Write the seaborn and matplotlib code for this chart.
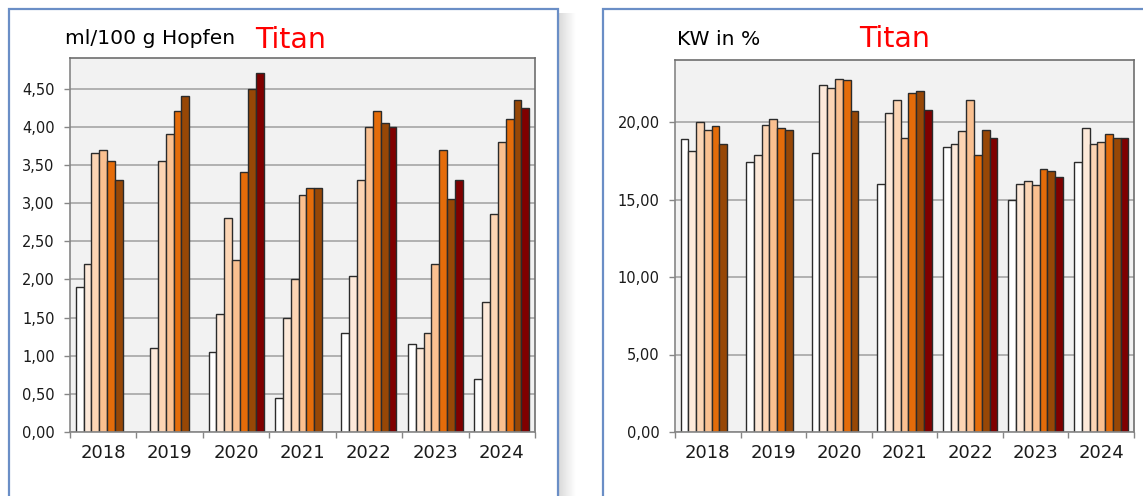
# %%
## LIBRARY
import numpy as np
import pandas as pd
import matplotlib
matplotlib.use("Agg")
import matplotlib.pyplot as plt
import seaborn as sns
from matplotlib.patches import Rectangle
from matplotlib.ticker import FuncFormatter

# %%
## DATA
years = ["2018", "2019", "2020", "2021", "2022", "2023", "2024"]
slots = ["1", "2", "3", "4", "5", "6", "7"]
bar_colors = ["#FFFFFF", "#FDE9D9", "#FCD5B4", "#FAC090", "#E46C0A", "#974706", "#7F0000"]

nan = np.nan
# ml/100 g Hopfen, one list per year (7 bars each)
oil_2018 = [1.90, 2.20, 3.65, 3.70, 3.55, 3.30, nan]
oil_2019 = [nan, 1.10, 3.55, 3.90, 4.20, 4.40, nan]
oil_2020 = [1.05, 1.55, 2.80, 2.25, 3.40, 4.50, 4.70]
oil_2021 = [0.45, 1.50, 2.00, 3.10, 3.20, 3.20, nan]
oil_2022 = [1.30, 2.05, 3.30, 4.00, 4.20, 4.05, 4.00]
oil_2023 = [1.15, 1.10, 1.30, 2.20, 3.70, 3.05, 3.30]
oil_2024 = [0.70, 1.70, 2.85, 3.80, 4.10, 4.35, 4.25]

# KW in %
kw_2018 = [18.9, 18.1, 20.0, 19.5, 19.75, 18.6, nan]
kw_2019 = [17.4, 17.9, 19.8, 20.2, 19.6, 19.5, nan]
kw_2020 = [18.0, 22.4, 22.2, 22.8, 22.7, 20.7, nan]
kw_2021 = [16.0, 20.6, 21.4, 19.0, 21.9, 22.0, 20.8]
kw_2022 = [18.4, 18.6, 19.4, 21.4, 17.9, 19.5, 19.0]
kw_2023 = [14.95, 16.0, 16.2, 15.95, 16.95, 16.85, 16.45]
kw_2024 = [17.4, 19.6, 18.6, 18.7, 19.2, 19.0, 19.0]

oil_ticks = [0, 0.5, 1.0, 1.5, 2.0, 2.5, 3.0, 3.5, 4.0, 4.5]
kw_ticks = [0, 5, 10, 15, 20]


def long_df(rows):
    recs = []
    for year, vals in zip(years, rows):
        for s, v in zip(slots, vals):
            if not np.isnan(v):
                recs.append({"year": year, "slot": s, "value": v})
    return pd.DataFrame(recs)


df_oil = long_df([oil_2018, oil_2019, oil_2020, oil_2021, oil_2022, oil_2023, oil_2024])
df_kw = long_df([kw_2018, kw_2019, kw_2020, kw_2021, kw_2022, kw_2023, kw_2024])

# %%
## FIGURE
W, H = 1143, 496
fig = plt.figure(figsize=(W / 100, H / 100), dpi=100)
fig.patch.set_facecolor("white")


def px_box(x0, y0, x1, y1):
    # pixel box (top-left origin) -> figure fraction rect
    return [x0 / W, (H - y1) / H, (x1 - x0) / W, (y1 - y0) / H]


# outer panel frames (+ soft shadow right of the left one)
shadow = fig.add_axes(px_box(559, 13, 576, H))
grad = np.linspace(0.80, 1.0, 40) ** 0.7
shadow.imshow(grad.reshape(1, -1), cmap="gray", vmin=0, vmax=1, aspect="auto")
shadow.axis("off")

fig.patches.append(Rectangle((9 / W, -0.1), (558 - 9) / W, (H - 9) / H + 0.1,
                             transform=fig.transFigure, fill=False,
                             edgecolor="#6A8EC6", linewidth=1.6, zorder=5))
fig.patches.append(Rectangle((603 / W, -0.1), 0.5, (H - 9) / H + 0.1,
                             transform=fig.transFigure, fill=False,
                             edgecolor="#6A8EC6", linewidth=1.6, zorder=5))


def draw_panel(ax, df, ymax, ticks):
    sns.barplot(data=df, x="year", y="value", hue="slot", order=years,
                hue_order=slots, palette=bar_colors, saturation=1,
                width=0.83, edgecolor="#2b2b2b", linewidth=1.0,
                errorbar=None, legend=False, ax=ax)
    ax.set_facecolor("#F2F2F2")
    ax.set_ylim(0, ymax)
    ax.set_xlim(-0.5, 6.5)
    ax.set_yticks(ticks)
    ax.yaxis.set_major_formatter(FuncFormatter(lambda v, p: f"{v:.2f}".replace(".", ",")))
    ax.grid(axis="y", color="#A6A6A6", linewidth=1.2)
    ax.grid(axis="x", visible=False)
    ax.set_axisbelow(True)
    ax.set_xticks(np.arange(-0.5, 7, 1))
    ax.set_xticklabels([])
    ax.set_xticks(range(7), minor=True)
    ax.set_xticklabels(years, minor=True)
    ax.tick_params(axis="x", which="major", length=4, color="#868686", width=1)
    ax.tick_params(axis="x", which="minor", length=0, pad=9, labelsize=13, labelcolor="#1a1a1a")
    ax.tick_params(axis="y", length=4, color="#868686", width=1, pad=7,
                   labelsize=10.5, labelcolor="#1a1a1a")
    ax.set_xlabel("")
    ax.set_ylabel("")
    for side in ["left", "bottom"]:
        ax.spines[side].set_color("#868686")
        ax.spines[side].set_linewidth(1.2)
    for side in ["top", "right"]:
        ax.spines[side].set_color("#6E6E6E")
        ax.spines[side].set_linewidth(1.2)


ax1 = fig.add_axes(px_box(70, 58, 535, 432))
draw_panel(ax1, df_oil, 4.9, oil_ticks)

ax2 = fig.add_axes(px_box(675, 60, 1134, 432))
draw_panel(ax2, df_kw, 24, kw_ticks)

# headers
fig.text(65 / W, (H - 44) / H, "ml/100 g Hopfen", fontsize=14.6, color="black", va="baseline")
fig.text(255 / W, (H - 48) / H, "Titan", fontsize=20.5, color="#FF0000", va="baseline")
fig.text(677 / W, (H - 45) / H, "KW in %", fontsize=14.6, color="black", va="baseline")
fig.text(859 / W, (H - 47) / H, "Titan", fontsize=20.5, color="#FF0000", va="baseline")

plt.savefig("out.png", dpi=100)
